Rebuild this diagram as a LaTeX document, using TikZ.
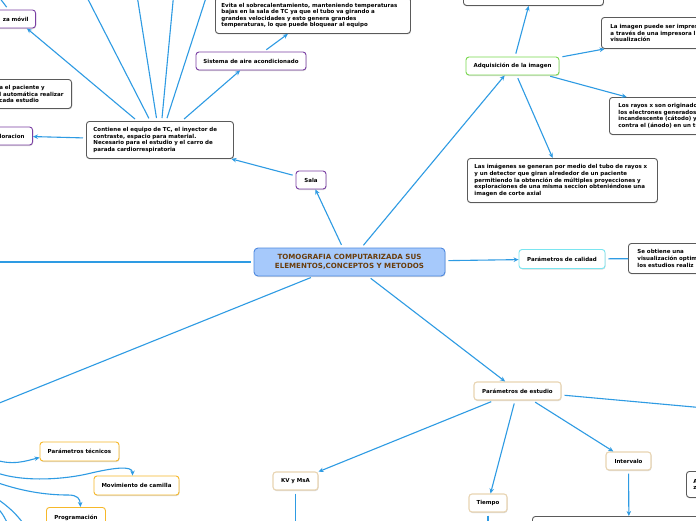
\documentclass[tikz,border=0pt]{standalone}
\usepackage{fontspec}
\setmainfont{DejaVu Sans}
\usepackage{tikz}
\usetikzlibrary{arrows.meta,positioning,shadows}
\usepackage{xcolor}
\definecolor{Wire}{HTML}{2E9BE3}
\definecolor{Sky}{HTML}{A6C9FB}
\definecolor{SkyEdge}{HTML}{4D88DF}
\definecolor{Brown}{HTML}{6A3D0C}
\definecolor{Violet}{HTML}{7A3FA3}
\definecolor{Slate}{HTML}{5A5A5A}
\definecolor{Lime}{HTML}{79D84F}
\definecolor{Aqua}{HTML}{7AE5F0}
\definecolor{Sand}{HTML}{E8D4B2}
\definecolor{Amber}{HTML}{F6B82A}
\newcommand{\boxfont}{\fontsize{5.5}{6.6}\selectfont\bfseries}
\newcommand{\rootfont}{\fontsize{7.1}{8.5}\selectfont\bfseries}
\tikzset{
  card/.style={rounded corners=3pt,line width=0.9pt,fill=white,
    font=\boxfont,inner xsep=7pt,inner ysep=0pt,
    drop shadow={opacity=0.3,shadow xshift=0.5pt,shadow yshift=-1pt}},
  violet card/.style={card,draw=Violet},
  slate card/.style={card,draw=Slate,align=left},
  lime card/.style={card,draw=Lime},
  aqua card/.style={card,draw=Aqua},
  sand card/.style={card,draw=Sand,line width=1.1pt},
  amber card/.style={card,draw=Amber},
  wire/.style={draw=Wire,line width=1.1pt,shorten <=3pt},
  link/.style={wire,-{Stealth[length=5pt,width=4.5pt]}}
}

\begin{document}
\begin{tikzpicture}[x=1pt,y=-1pt]
    \path[use as bounding box,fill=white] (0,0) rectangle (696,520);

    \node[card,draw=SkyEdge,fill=Sky,text=Brown,font=\rootfont,align=center,
          rounded corners=4pt,minimum width=191pt,minimum height=28pt]
      (tom) at (349.5,262) {TOMOGRAFIA COMPUTARIZADA SUS\\ELEMENTOS,CONCEPTOS Y METODOS};

    \node[violet card,inner xsep=0pt,minimum width=30pt,minimum height=18pt]
      (sal) at (311,180) {Sala};
    \node[slate card,anchor=north west,text width=133pt,minimum height=37pt]
      (equ) at (86,121) {Contiene el equipo de TC, el inyector de\\contraste, espacio para material.\\Necesario para el estudio y el carro de\\parada cardiorrespiratoria};
    \node[violet card,minimum width=110pt,minimum height=18pt]
      (air) at (251,61) {Sistema de aire acondicionado};
    \node[slate card,anchor=north west,inner xsep=6pt,text width=183pt,minimum height=36pt]
      (evi) at (215,-3) {Evita el sobrecalentamiento, manteniendo temperaturas\\bajas en la sala de TC ya que el tubo va girando a\\grandes velocidades y esto genera grandes\\temperaturas, lo que puede bloquear al equipo};
    \node[violet card,anchor=east,minimum height=18pt]
      (pie) at (36,19) {za móvil};
    \node[slate card,anchor=north east,inner xsep=8pt,minimum height=29pt]
      (pac) at (72,79) {a el paciente y\\l automática realizar\\cada estudio};
    \node[violet card,anchor=east,inner xsep=8pt,minimum height=18pt]
      (exl) at (33,136) {loracion};

    \node[lime card,minimum width=93pt,minimum height=18pt]
      (adq) at (512.5,66) {Adquisición de la imagen};
    \node[slate card,anchor=north west,minimum width=140pt,minimum height=35pt]
      (sup) at (463,-30) {};
    \node[slate card,anchor=north west,inner xsep=9pt,text width=160pt,minimum height=31pt]
      (imp) at (601,17) {La imagen puede ser impres\\a través de una impresora l\\visualización};
    \node[slate card,anchor=north west,inner xsep=9pt,text width=156pt,minimum height=37pt]
      (ray) at (609,97) {Los rayos x son originado\\los electrones generados\\incandescente (cátodo) y\\contra el (ánodo) en un tu};
    \node[slate card,anchor=north west,inner xsep=7pt,text width=176pt,minimum height=44pt]
      (img) at (467,158) {Las imágenes se generan por medio del tubo de rayos x\\y un detector que giran alrededor de un paciente\\permitiendo la obtención de múltiples proyecciones y\\exploraciones de una misma seccion obteniéndose una\\imagen de corte axial};

    \node[aqua card,minimum width=86pt,minimum height=19pt]
      (cal) at (562,259) {Parámetros de calidad};
    \node[slate card,anchor=north west,inner xsep=9pt,text width=104pt,minimum height=30pt]
      (obt) at (628,243) {Se obtiene una\\visualización optim\\los estudios realiz};

    \node[sand card,minimum width=87pt,minimum height=18pt]
      (est) at (517.5,391) {Parámetros de estudio};
    \node[sand card,inner xsep=0pt,minimum width=45pt,minimum height=18pt]
      (kvm) at (295.5,481) {KV y MsA};
    \node[sand card,inner xsep=0pt,minimum width=38pt,minimum height=18pt]
      (tie) at (488,503) {Tiempo};
    \node[sand card,inner xsep=0pt,minimum width=45pt,minimum height=18pt]
      (itv) at (628.5,461) {Intervalo};
    \node[slate card,anchor=north west,text width=46pt,minimum height=26pt]
      (azb) at (686,471) {A\\z};
    \node[slate card,anchor=north west,minimum width=193pt,minimum height=30pt]
      (bot) at (532,516) {};

    \node[amber card,minimum width=79pt,minimum height=19pt]
      (tec) at (79.5,451.5) {Parámetros técnicos};
    \node[amber card,minimum width=85pt,minimum height=19pt]
      (cam) at (136.5,485.5) {Movimiento de camilla};
    \node[amber card,anchor=north west,minimum width=59pt,minimum height=20pt]
      (prg) at (46,507) {Programación};

    \coordinate (uA) at (73,-30);
    \coordinate (uB) at (133,-30);
    \coordinate (uC) at (176,-30);
    \coordinate (uD) at (215,-30);
    \coordinate (pUp) at (-14,-20);
    \coordinate (wst) at (-60,262);
    \coordinate (swt) at (-100,443);
    \coordinate (eRt) at (760,413);
    \coordinate (kvd) at (295.5,560);
    \coordinate (tid) at (488,560);
    \coordinate (lA) at (-10,458);
    \coordinate (lB) at (-10,470);
    \coordinate (lC) at (-10,480);
    \coordinate (lD) at (-10,494);
    \coordinate (lE) at (-8,503);
    \coordinate (dD) at (28,530);
    \coordinate (dE) at (10,530);

    \draw[link] (tom) -- (sal);
    \draw[link] (sal) -- (equ);
    \draw[link] (equ) -- (air);
    \draw[link] (air) -- (evi);
    \draw[link] (equ) -- (pie);
    \draw[link] (equ) -- (exl);
    \draw[wire] (equ) -- (uA);
    \draw[wire] (equ) -- (uB);
    \draw[wire] (equ) -- (uC);
    \draw[wire] (equ) -- (uD);
    \draw[wire] (pie) -- (pUp);
    \draw[link] (tom) -- (adq);
    \draw[link] (adq) -- (sup);
    \draw[link] (adq) -- (imp);
    \draw[link] (adq) -- (ray);
    \draw[link] (adq) -- (img);
    \draw[link] (tom) -- (cal);
    \draw[wire] (cal) -- (obt);
    \draw[link] (tom) -- (est);
    \draw[wire] (tom) -- (wst);
    \draw[wire] (tom) -- (swt);
    \draw[link] (est) -- (kvm);
    \draw[link] (est) -- (tie);
    \draw[link] (est) -- (itv);
    \draw[wire] (est) -- (eRt);
    \draw[link] (itv) -- (bot);
    \draw[wire] (kvm) -- (kvd);
    \draw[wire] (tie) -- (tid);

    \draw[link] (lA) .. controls (12,466) and (26,461) .. ([yshift=-6pt]tec.west);
    \draw[link] (lB) .. controls (15,481) and (55,481) .. (87,474)
      .. controls (112,468) and (132.5,465) .. ([xshift=-4pt]cam.north);
    \draw[link] (lC) .. controls (20,491) and (45,495) .. (68,495)
      .. controls (78,495) and (80,499) .. ([xshift=4.5pt]prg.north);
    \draw[wire] (lD) .. controls (5,504) and (16,512) .. (dD);
    \draw[wire] (lE) .. controls (0,510) and (5,516) .. (dE);
  \end{tikzpicture}
\end{document}
